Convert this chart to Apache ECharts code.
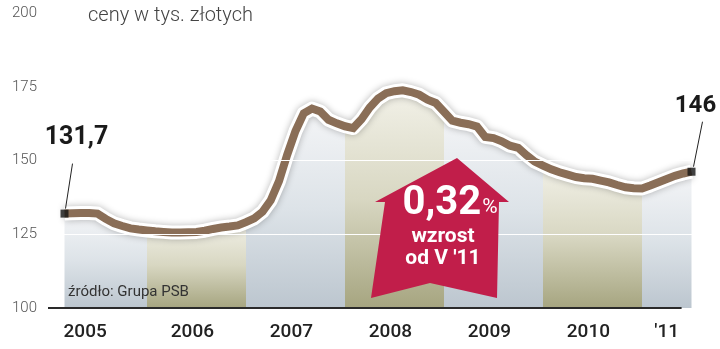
<!DOCTYPE html>
<html><head><meta charset="utf-8">
<script src="https://cdn.jsdelivr.net/npm/echarts@6/dist/echarts.min.js"></script>
<style>html,body{margin:0;padding:0;background:#fff}#c{width:720px;height:349px}</style>
</head><body><div id="c"></div>
<script>
// months counted from Jan 2005 (0); first reading is March 2005
const startMonth = 2;
const prices = [
  132.0,132.1,132.2,132.2,132.0,130.2,128.7,127.8,127.0,126.6,
  126.3,126.0,125.8,125.6,125.6,125.7,125.8,126.2,126.8,127.3,
  127.6,128.0,129.1,130.4,132.6,136.5,143.0,152.0,160.0,166.0,
  167.6,166.6,163.8,162.6,161.6,161.0,164.0,168.0,171.0,172.8,
  173.5,173.8,173.2,172.3,170.6,169.5,166.5,163.5,162.8,162.3,
  161.5,158.0,157.6,156.5,155.0,154.3,151.8,149.6,148.3,147.0,
  146.0,145.2,144.4,144.0,143.8,143.2,142.6,141.7,140.9,140.6,
  140.5,141.5,142.6,143.7,144.8,145.6,146.2
];
const yearLabels = ['2005','2006','2007','2008','2009','2010',"'11"];
const yTicks = [100,125,150,175,200];
const gridValues = [125,150];
const firstLabel = '131,7';
const lastLabel = '146';
const titleText = 'ceny w tys. złotych';
const sourceText = 'źródło: Grupa PSB';
const badgeValue = '0,32', badgeUnit = '%', badgeLine1 = 'wzrost', badgeLine2 = "od V '11";

const FONT = 'Roboto, "Open Sans", sans-serif';
const points = prices.map((v,i)=>[startMonth+i, v]);
const lastIdx = startMonth + prices.length - 1;

const blueGrad = new echarts.graphic.LinearGradient(0,0,0,1,[
  {offset:0,color:'#f4f5f7'},{offset:0.5,color:'#dde3e8'},{offset:1,color:'#bcc6cf'}]);
const oliveGrad = new echarts.graphic.LinearGradient(0,0,0,1,[
  {offset:0,color:'#f2f1e8'},{offset:0.5,color:'#d8d7c2'},{offset:1,color:'#a6a580'}]);

const series = [];
yearLabels.forEach((lab, k)=>{
  const from = Math.max(startMonth, 12*k), to = Math.min(lastIdx, 12*k+12);
  const s = {
    type:'line', data: points.filter(p=>p[0]>=from && p[0]<=to),
    symbol:'none', silent:true, z:2,
    lineStyle:{width:0},
    areaStyle:{color: k%2===0 ? blueGrad : oliveGrad, opacity:1, origin:'start'}
  };
  if (k === yearLabels.length-1) {
    s.markLine = {
      silent:true, symbol:'none', label:{show:false},
      lineStyle:{color:'#ffffff', width:1.2, type:'solid'},
      data: gridValues.map(v=>({yAxis:v}))
    };
  }
  series.push(s);
});
series.push({
  type:'line', data:points, symbol:'none', silent:true, z:3,
  lineStyle:{width:14, color:'#ffffff', shadowBlur:7, shadowColor:'rgba(0,0,0,0.28)', join:'round'}
});
series.push({
  type:'line', data:points, symbol:'none', silent:true, z:4,
  lineStyle:{width:8, color:'#8a6e57', join:'miter'}
});
series.push({
  type:'scatter', data:[points[0], points[points.length-1]], symbol:'rect', symbolSize:8,
  itemStyle:{color:'#141414'}, z:5, silent:true
});
// base axis line
series.push({
  type:'line', data:[], silent:true,
  markLine:{silent:true, symbol:'none', label:{show:false},
    lineStyle:{color:'#2a2a2a', width:2, type:'solid'},
    data:[[{coord:[0,yTicks[0]]},{coord:[76.8,yTicks[0]]}]]}
});

const chart = echarts.init(document.getElementById('c'), null, {renderer:'canvas'});
chart.setOption({
  animation:false,
  backgroundColor:'#ffffff',
  grid:{left:48, right:12, top:13, bottom:41},
  xAxis:{type:'value', min:0, max:80, interval:0.5,
    axisLine:{show:false}, axisTick:{show:false}, splitLine:{show:false},
    axisLabel:{margin:15, fontSize:19, fontWeight:500, color:'#222', fontFamily:FONT,
      showMinLabel:true, showMaxLabel:false,
      formatter:(v)=>{
        if (v===75) return yearLabels[6];
        if (v===4.5) return yearLabels[0];
        if (v>12 && v<72 && ((v-5.5)%12)===0) return yearLabels[(v-5.5)/12];
        return '';
      }}
  },
  yAxis:{type:'value', min:yTicks[0], max:yTicks[yTicks.length-1], interval:25,
    axisLine:{show:false}, axisTick:{show:false}, splitLine:{show:false},
    axisLabel:{margin:11, fontSize:15, fontWeight:300, color:'#555', fontFamily:FONT}
  },
  series
});

const p0 = chart.convertToPixel({gridIndex:0}, points[0]);
const pN = chart.convertToPixel({gridIndex:0}, points[points.length-1]);
const txt = (x,y,text,size,weight,fill,align,extra)=>({type:'text', x, y, silent:true, z:10,
  style:Object.assign({text, fontSize:size, fontWeight:weight, fontFamily:FONT, fill, align:align||'center', verticalAlign:'middle'}, extra||{})});
const arrow = [[457,158],[509,202],[499,202],[497,298],[430,283],[371,298],[385,202],[375,202]];
chart.setOption({graphic:[
  txt(88,16,titleText,20,300,'#444','left'),
  txt(68,292,sourceText,15,'normal','#333','left'),
  {type:'line', silent:true, z:10, shape:{x1:p0[0]+1,y1:p0[1]-5,x2:p0[0]+8,y2:p0[1]-50}, style:{stroke:'#222',lineWidth:1}},
  txt(p0[0]+12,p0[1]-76,firstLabel,25,'bold','#1a1a1a'),
  {type:'line', silent:true, z:10, shape:{x1:pN[0]+2,y1:pN[1]-5,x2:pN[0]+11,y2:pN[1]-50}, style:{stroke:'#222',lineWidth:1}},
  txt(pN[0]+4,pN[1]-66,lastLabel,24,'bold','#1a1a1a'),
  {type:'polygon', silent:true, z:8, shape:{points:arrow}, style:{fill:'#c11e4a'}},
  {type:'text', x:450, y:204, silent:true, z:11, style:{
    text:'{a|'+badgeValue+'}{b|'+badgeUnit+'}', align:'center', verticalAlign:'middle',
    rich:{a:{fontSize:40, fontWeight:'bold', fill:'#fff', fontFamily:FONT},
          b:{fontSize:21, fontWeight:'normal', fill:'#fff', fontFamily:FONT, padding:[8,0,0,1]}}}},
  txt(443,237,badgeLine1,21,'bold','#fff'),
  txt(443,259,badgeLine2,21,'bold','#fff')
]});
</script></body></html>
